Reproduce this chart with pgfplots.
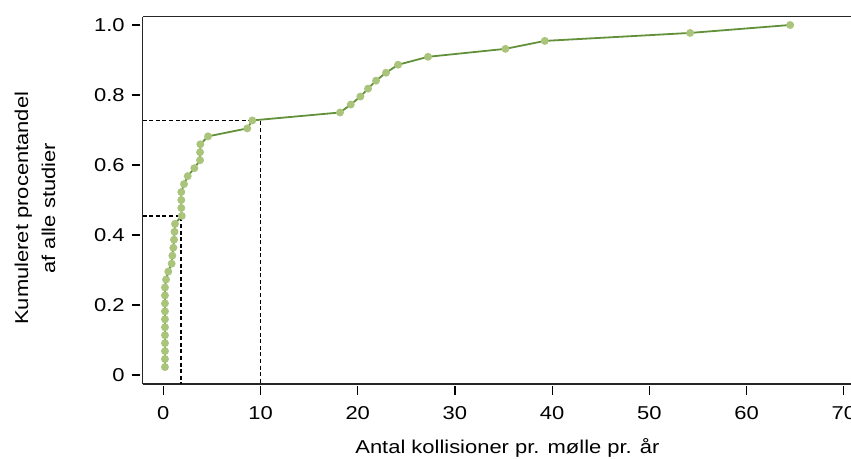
\documentclass[border=0pt]{standalone}
\usepackage{fontspec}
\setmainfont{Liberation Sans}[FakeStretch=1.18]
\usepackage{pgfplots}
\pgfplotsset{compat=1.18}
\definecolor{linegreen}{HTML}{62913A}
\definecolor{markgreen}{HTML}{AAC47C}
\begin{document}
\begin{tikzpicture}
\begin{axis}[at={(0,0)},anchor=south west,scale only axis,width=370pt,height=183.8pt,
 xmin=-2.12,xmax=74,ymin=-0.0266,ymax=1.0237,
 font=\fontsize{9.3}{13.5}\selectfont,
 /pgf/number format/assume math mode=true,
 axis x line*=box,axis y line*=left,
 xtick={0,10,...,70},ytick={0,0.2,0.4,0.6,0.8,1.0},yticklabels={0,0.2,0.4,0.6,0.8,1.0},
 xtick pos=left,ytick pos=left,tick align=outside,major tick length=4.3pt,
 tick style={black,line width=0.6pt},
 xtick style={yshift=-1pt},ytick style={xshift=-1.2pt},
 xticklabel style={yshift=-3.5pt},yticklabel style={xshift=-1.2pt},
 axis line style={-,line width=0.8pt,black!85},
 xlabel={Antal kollisioner pr. mølle pr. år},
 xlabel style={at={(axis description cs:0.4929,-0.1888)},anchor=base},
 ylabel={Kumuleret procentandel\\af alle studier},
 ylabel style={at={(axis description cs:-0.1456,0.479)},anchor=center,align=center}]
% reference lines
\addplot[black,line width=0.9pt,dash pattern=on 2pt off 1.3pt] coordinates {(-2.12,0.4545)(1.79,0.4545)(1.79,-0.0266)};
\addplot[black,line width=0.9pt,dash pattern=on 2pt off 1.3pt] coordinates {(-2.12,0.7273)(10,0.7273)(10,-0.0266)};
% cumulative share of studies
\addplot[linegreen,line width=0.9pt,mark=*,mark size=1.5pt,
 mark options={fill=markgreen,draw=markgreen}] coordinates {
(0.17,0.0227)(0.17,0.0455)(0.17,0.0682)(0.17,0.0909)(0.17,0.1136)(0.17,0.1364)
(0.17,0.1591)(0.17,0.1818)(0.17,0.2045)(0.17,0.2273)(0.17,0.25)(0.28,0.2727)
(0.51,0.2955)(0.86,0.3182)(0.93,0.3409)(1.03,0.3636)(1.10,0.3864)(1.15,0.4091)
(1.20,0.4318)(1.90,0.4545)(1.85,0.4773)(1.85,0.5)(1.85,0.5227)(2.13,0.5455)
(2.51,0.5682)(3.19,0.5909)(3.78,0.6136)(3.78,0.6364)(3.81,0.6591)(4.60,0.6818)
(8.64,0.7045)(9.16,0.7273)(18.18,0.75)(19.28,0.7727)(20.27,0.7955)(21.06,0.8182)
(21.88,0.8409)(22.91,0.8636)(24.15,0.8864)(27.23,0.9091)(35.19,0.9318)(39.24,0.9545)
(54.19,0.9773)(64.48,1.0)};
\end{axis}
\pgfresetboundingbox
\path[use as bounding box] (-71.35pt,-37.35pt) rectangle (354.15pt,192.15pt);
\end{tikzpicture}
\end{document}
